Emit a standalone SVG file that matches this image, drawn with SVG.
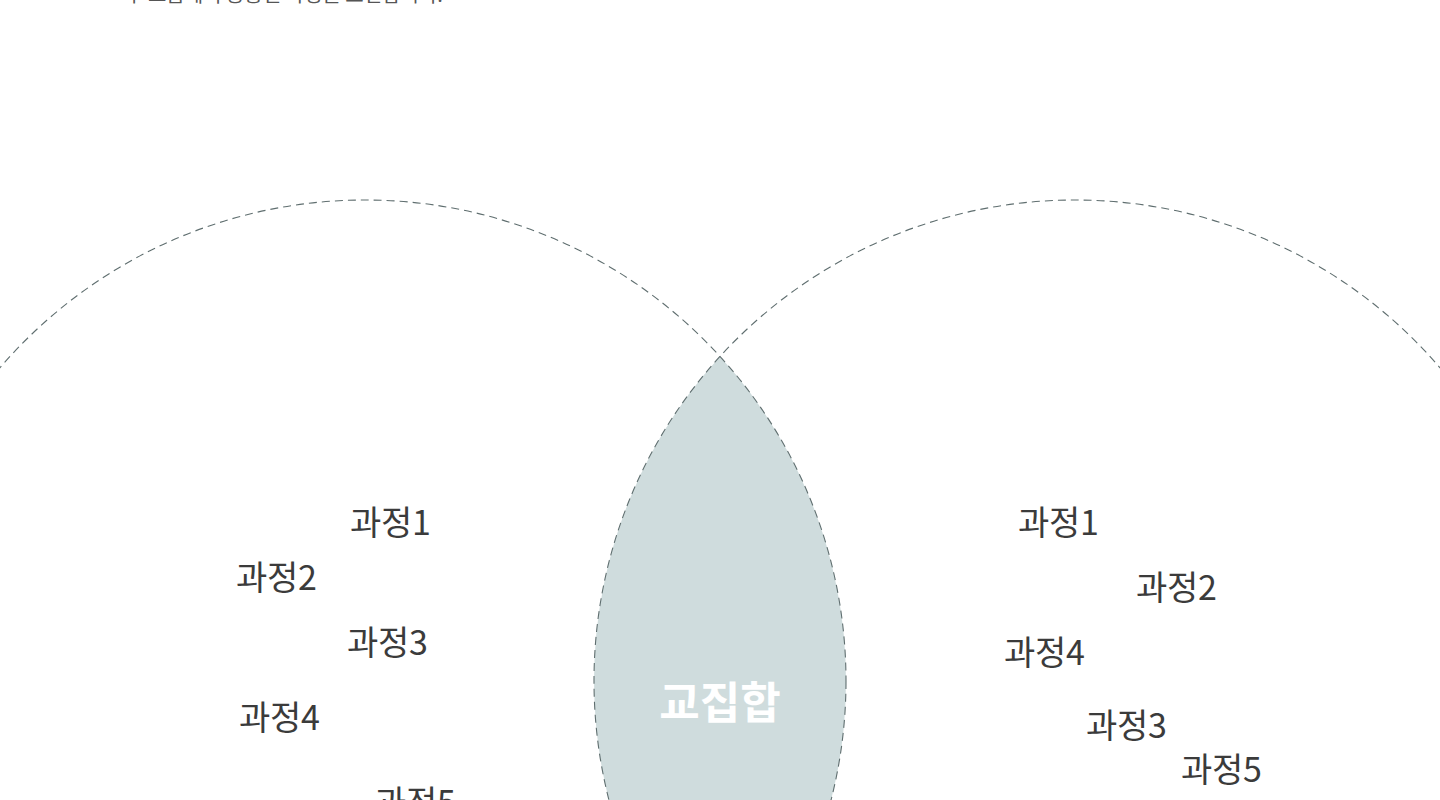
<svg xmlns="http://www.w3.org/2000/svg" width="1440" height="800" viewBox="0 0 1440 800">
  <style>
    .ring { fill: none; stroke: #5f6e6f; stroke-width: 1.1; stroke-dasharray: 8 5; }
    .lbl { font-family: "Noto Sans CJK KR", "Noto Sans", sans-serif; font-size: 34px; fill: #3b3b3b; letter-spacing: -0.3px; }
    .core { font-family: "Noto Sans CJK KR", "Noto Sans", sans-serif; font-size: 44px; font-weight: bold; fill: #ffffff; }
    .cap { font-family: "Noto Sans CJK KR", "Noto Sans", sans-serif; font-size: 20px; fill: #555555; }
  </style>
  <defs>
    <clipPath id="clipLeft">
      <circle cx="365" cy="681" r="481"/>
    </clipPath>
  </defs>
  <rect width="1440" height="800" fill="#ffffff"/>
  <text class="cap" x="125" y="2">두 그룹에서 공통된 과정을 표현합니다.</text>

  <g id="intersection">
    <circle cx="1075" cy="681" r="481" fill="#cfdcdd" clip-path="url(#clipLeft)"/>
    <text class="core" x="720" y="719" text-anchor="middle">교집합</text>
  </g>

  <g id="connectors">
    <circle id="setA" class="ring" cx="365" cy="681" r="481"/>
    <circle id="setB" class="ring" cx="1075" cy="681" r="481"/>
  </g>

  <g id="left-set">
    <text class="lbl" x="350" y="535">과정1</text>
    <text class="lbl" x="236" y="590">과정2</text>
    <text class="lbl" x="347" y="655">과정3</text>
    <text class="lbl" x="239" y="730">과정4</text>
    <text class="lbl" x="375" y="815">과정5</text>
  </g>

  <g id="right-set">
    <text class="lbl" x="1018" y="535">과정1</text>
    <text class="lbl" x="1136" y="600">과정2</text>
    <text class="lbl" x="1004" y="665">과정4</text>
    <text class="lbl" x="1086" y="738">과정3</text>
    <text class="lbl" x="1181" y="782">과정5</text>
  </g>
</svg>
